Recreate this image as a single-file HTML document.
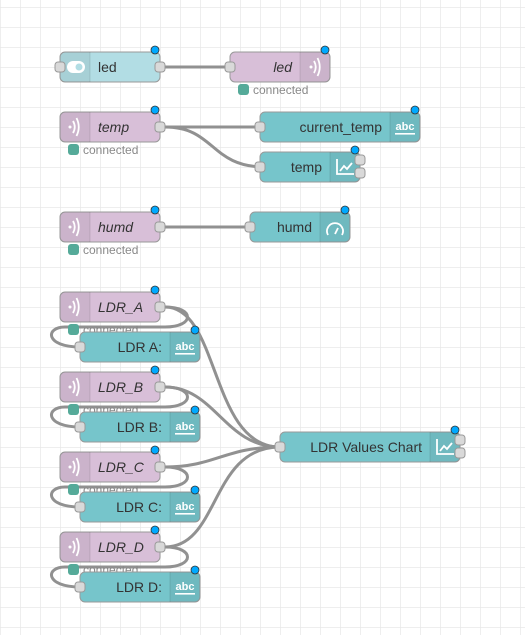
<!DOCTYPE html>
<html><head><meta charset="utf-8"><style>
html,body{margin:0;padding:0;background:#fff}
svg{display:block}
text{font-family:"Liberation Sans",sans-serif;font-size:14px;fill:#333}
.it{font-style:italic}
.st{font-size:12px;fill:#888}
.n{stroke:#999;stroke-width:1}
.ic{fill:rgba(0,0,0,0.06)}
.sep{stroke:rgba(0,0,0,0.1);stroke-width:1}
.p{fill:#d9d9d9;stroke:#999;stroke-width:1}
.w{fill:none;stroke:#919191;stroke-width:3}
.dot{fill:#00a9ff;stroke:#333;stroke-width:0.8}
.g{fill:#5a9}
.wi{fill:none;stroke:#fff;stroke-width:1.8}
</style></head><body>
<svg width="525" height="635" xmlns="http://www.w3.org/2000/svg">
<defs>
<pattern id="grid" x="0" y="7" width="20" height="20" patternUnits="userSpaceOnUse">
<path d="M0 0H20M0 0V20" stroke="#e8e8e8" stroke-width="1.5" fill="none"/>
</pattern>
<g id="mq"><circle cx="0" cy="0" r="1.5" fill="#fff"/><path d="M3 -6 Q6.5 0 3 6 M6.5 -9 Q11 0 6.5 9" class="wi"/></g>
<g id="abc"><text x="0" y="3" style="font-size:11px;font-weight:bold;fill:#fff" text-anchor="middle">abc</text><rect x="-10" y="6" width="20" height="1.6" fill="#fff"/></g>
<g id="ch"><path d="M-8 -8 V7 H9 M-5 4 L-1 -1 L2 2 L7 -4" class="wi"/></g>
</defs>
<rect width="525" height="635" fill="url(#grid)"/>

<path class="w" d="M165 67 H235"/>
<path class="w" d="M165 127 H265"/>
<path class="w" d="M165 127 C215 127 210 167 265 167"/>
<path class="w" d="M165 227 H255"/>
<path class="w" d="M165 307 C195 307 195 327 165 327 L65 327 C45 327 45 347 80 347"/>
<path class="w" d="M165 387 C195 387 195 407 165 407 L65 407 C45 407 45 427 80 427"/>
<path class="w" d="M165 467 C195 467 195 487 165 487 L65 487 C45 487 45 507 80 507"/>
<path class="w" d="M165 547 C195 547 195 567 165 567 L65 567 C45 567 45 587 80 587"/>
<path class="w" d="M165 307 C220 307 210 447 280 447"/>
<path class="w" d="M165 387 C215 387 225 447 280 447"/>
<path class="w" d="M165 467 C215 467 225 447 280 447"/>
<path class="w" d="M165 547 C220 547 210 447 280 447"/>

<g transform="translate(60,52)">
<rect class="n" width="100" height="30" rx="5" fill="#b2dde4"/>
<path class="ic" d="M5 0 H30 V30 H5 A5 5 0 0 1 0 25 V5 A5 5 0 0 1 5 0Z"/><line class="sep" x1="30" y1="0" x2="30" y2="30"/>
<rect x="7" y="9" width="18" height="12" rx="6" fill="#fff"/><circle cx="19" cy="15" r="3.5" fill="#b2dde4"/>
<text x="38" y="20">led</text>
<rect class="p" x="-5" y="10" width="10" height="10" rx="3"/><rect class="p" x="95" y="10" width="10" height="10" rx="3"/>
<circle class="dot" cx="95" cy="-2" r="4"/>
</g>
<g transform="translate(230,52)">
<rect class="n" width="100" height="30" rx="5" fill="#d8bfd8"/>
<path class="ic" d="M70 0 H95 A5 5 0 0 1 100 5 V25 A5 5 0 0 1 95 30 H70Z"/><line class="sep" x1="70" y1="0" x2="70" y2="30"/>
<use href="#mq" x="81" y="15"/>
<text x="62" y="20" class="it" text-anchor="end">led</text>
<rect class="p" x="-5" y="10" width="10" height="10" rx="3"/>
<circle class="dot" cx="95" cy="-2" r="4"/>
<rect class="g" x="8" y="32" width="11" height="11" rx="3"/><text x="23" y="42" class="st">connected</text>
</g>

<g transform="translate(60,112)">
<rect class="n" width="100" height="30" rx="5" fill="#d8bfd8"/>
<path class="ic" d="M5 0 H30 V30 H5 A5 5 0 0 1 0 25 V5 A5 5 0 0 1 5 0Z"/><line class="sep" x1="30" y1="0" x2="30" y2="30"/>
<use href="#mq" x="10" y="15"/>
<text x="38" y="20" class="it">temp</text>
<rect class="p" x="95" y="10" width="10" height="10" rx="3"/>
<circle class="dot" cx="95" cy="-2" r="4"/>
<rect class="g" x="8" y="32" width="11" height="11" rx="3"/><text x="23" y="42" class="st">connected</text>
</g>
<g transform="translate(60,212)">
<rect class="n" width="100" height="30" rx="5" fill="#d8bfd8"/>
<path class="ic" d="M5 0 H30 V30 H5 A5 5 0 0 1 0 25 V5 A5 5 0 0 1 5 0Z"/><line class="sep" x1="30" y1="0" x2="30" y2="30"/>
<use href="#mq" x="10" y="15"/>
<text x="38" y="20" class="it">humd</text>
<rect class="p" x="95" y="10" width="10" height="10" rx="3"/>
<circle class="dot" cx="95" cy="-2" r="4"/>
<rect class="g" x="8" y="32" width="11" height="11" rx="3"/><text x="23" y="42" class="st">connected</text>
</g>

<g transform="translate(260,112)">
<rect class="n" width="160" height="30" rx="5" fill="#76c5cb"/>
<path class="ic" d="M130 0 H155 A5 5 0 0 1 160 5 V25 A5 5 0 0 1 155 30 H130Z"/><line class="sep" x1="130" y1="0" x2="130" y2="30"/>
<use href="#abc" x="145" y="15"/>
<text x="122" y="20" text-anchor="end">current_temp</text>
<rect class="p" x="-5" y="10" width="10" height="10" rx="3"/>
<circle class="dot" cx="155" cy="-2" r="4"/>
</g>
<g transform="translate(260,152)">
<rect class="n" width="100" height="30" rx="5" fill="#76c5cb"/>
<path class="ic" d="M70 0 H95 A5 5 0 0 1 100 5 V25 A5 5 0 0 1 95 30 H70Z"/><line class="sep" x1="70" y1="0" x2="70" y2="30"/>
<use href="#ch" x="85" y="15"/>
<text x="62" y="20" text-anchor="end">temp</text>
<rect class="p" x="-5" y="10" width="10" height="10" rx="3"/>
<rect class="p" x="95" y="3" width="10" height="10" rx="3"/><rect class="p" x="95" y="16" width="10" height="10" rx="3"/>
<circle class="dot" cx="95" cy="-2" r="4"/>
</g>
<g transform="translate(250,212)">
<rect class="n" width="100" height="30" rx="5" fill="#76c5cb"/>
<path class="ic" d="M70 0 H95 A5 5 0 0 1 100 5 V25 A5 5 0 0 1 95 30 H70Z"/><line class="sep" x1="70" y1="0" x2="70" y2="30"/>
<path d="M78 23 A8 8 0 1 1 92 23 M85 22 L88 16" class="wi" stroke-width="2"/>
<text x="62" y="20" text-anchor="end">humd</text>
<rect class="p" x="-5" y="10" width="10" height="10" rx="3"/>
<circle class="dot" cx="95" cy="-2" r="4"/>
</g>

<g>
<g transform="translate(60,292)">
<text x="23" y="42" class="st">connected</text>
<rect class="n" width="100" height="30" rx="5" fill="#d8bfd8"/>
<path class="ic" d="M5 0 H30 V30 H5 A5 5 0 0 1 0 25 V5 A5 5 0 0 1 5 0Z"/><line class="sep" x1="30" y1="0" x2="30" y2="30"/>
<use href="#mq" x="10" y="15"/><text x="38" y="20" class="it">LDR_A</text>
<rect class="p" x="95" y="10" width="10" height="10" rx="3"/><circle class="dot" cx="95" cy="-2" r="4"/>
</g>
<g transform="translate(80,332)">
<rect class="n" width="120" height="30" rx="5" fill="#76c5cb"/>
<path class="ic" d="M90 0 H115 A5 5 0 0 1 120 5 V25 A5 5 0 0 1 115 30 H90Z"/><line class="sep" x1="90" y1="0" x2="90" y2="30"/>
<use href="#abc" x="105" y="15"/><text x="82" y="20" text-anchor="end">LDR A:</text>
<rect class="p" x="-5" y="10" width="10" height="10" rx="3"/><circle class="dot" cx="115" cy="-2" r="4"/>
</g>
<rect class="g" x="68" y="324" width="11" height="11" rx="3"/>
</g>
<g transform="translate(0,80)">
<g transform="translate(60,292)">
<text x="23" y="42" class="st">connected</text>
<rect class="n" width="100" height="30" rx="5" fill="#d8bfd8"/>
<path class="ic" d="M5 0 H30 V30 H5 A5 5 0 0 1 0 25 V5 A5 5 0 0 1 5 0Z"/><line class="sep" x1="30" y1="0" x2="30" y2="30"/>
<use href="#mq" x="10" y="15"/><text x="38" y="20" class="it">LDR_B</text>
<rect class="p" x="95" y="10" width="10" height="10" rx="3"/><circle class="dot" cx="95" cy="-2" r="4"/>
</g>
<g transform="translate(80,332)">
<rect class="n" width="120" height="30" rx="5" fill="#76c5cb"/>
<path class="ic" d="M90 0 H115 A5 5 0 0 1 120 5 V25 A5 5 0 0 1 115 30 H90Z"/><line class="sep" x1="90" y1="0" x2="90" y2="30"/>
<use href="#abc" x="105" y="15"/><text x="82" y="20" text-anchor="end">LDR B:</text>
<rect class="p" x="-5" y="10" width="10" height="10" rx="3"/><circle class="dot" cx="115" cy="-2" r="4"/>
</g>
<rect class="g" x="68" y="324" width="11" height="11" rx="3"/>
</g>
<g transform="translate(0,160)">
<g transform="translate(60,292)">
<text x="23" y="42" class="st">connected</text>
<rect class="n" width="100" height="30" rx="5" fill="#d8bfd8"/>
<path class="ic" d="M5 0 H30 V30 H5 A5 5 0 0 1 0 25 V5 A5 5 0 0 1 5 0Z"/><line class="sep" x1="30" y1="0" x2="30" y2="30"/>
<use href="#mq" x="10" y="15"/><text x="38" y="20" class="it">LDR_C</text>
<rect class="p" x="95" y="10" width="10" height="10" rx="3"/><circle class="dot" cx="95" cy="-2" r="4"/>
</g>
<g transform="translate(80,332)">
<rect class="n" width="120" height="30" rx="5" fill="#76c5cb"/>
<path class="ic" d="M90 0 H115 A5 5 0 0 1 120 5 V25 A5 5 0 0 1 115 30 H90Z"/><line class="sep" x1="90" y1="0" x2="90" y2="30"/>
<use href="#abc" x="105" y="15"/><text x="82" y="20" text-anchor="end">LDR C:</text>
<rect class="p" x="-5" y="10" width="10" height="10" rx="3"/><circle class="dot" cx="115" cy="-2" r="4"/>
</g>
<rect class="g" x="68" y="324" width="11" height="11" rx="3"/>
</g>
<g transform="translate(0,240)">
<g transform="translate(60,292)">
<text x="23" y="42" class="st">connected</text>
<rect class="n" width="100" height="30" rx="5" fill="#d8bfd8"/>
<path class="ic" d="M5 0 H30 V30 H5 A5 5 0 0 1 0 25 V5 A5 5 0 0 1 5 0Z"/><line class="sep" x1="30" y1="0" x2="30" y2="30"/>
<use href="#mq" x="10" y="15"/><text x="38" y="20" class="it">LDR_D</text>
<rect class="p" x="95" y="10" width="10" height="10" rx="3"/><circle class="dot" cx="95" cy="-2" r="4"/>
</g>
<g transform="translate(80,332)">
<rect class="n" width="120" height="30" rx="5" fill="#76c5cb"/>
<path class="ic" d="M90 0 H115 A5 5 0 0 1 120 5 V25 A5 5 0 0 1 115 30 H90Z"/><line class="sep" x1="90" y1="0" x2="90" y2="30"/>
<use href="#abc" x="105" y="15"/><text x="82" y="20" text-anchor="end">LDR D:</text>
<rect class="p" x="-5" y="10" width="10" height="10" rx="3"/><circle class="dot" cx="115" cy="-2" r="4"/>
</g>
<rect class="g" x="68" y="324" width="11" height="11" rx="3"/>
</g>

<g transform="translate(280,432)">
<rect class="n" width="180" height="30" rx="5" fill="#76c5cb"/>
<path class="ic" d="M150 0 H175 A5 5 0 0 1 180 5 V25 A5 5 0 0 1 175 30 H150Z"/><line class="sep" x1="150" y1="0" x2="150" y2="30"/>
<use href="#ch" x="165" y="15"/>
<text x="142" y="20" text-anchor="end">LDR Values Chart</text>
<rect class="p" x="-5" y="10" width="10" height="10" rx="3"/>
<rect class="p" x="175" y="3" width="10" height="10" rx="3"/><rect class="p" x="175" y="16" width="10" height="10" rx="3"/>
<circle class="dot" cx="175" cy="-2" r="4"/>
</g>
</svg>
</body></html>
